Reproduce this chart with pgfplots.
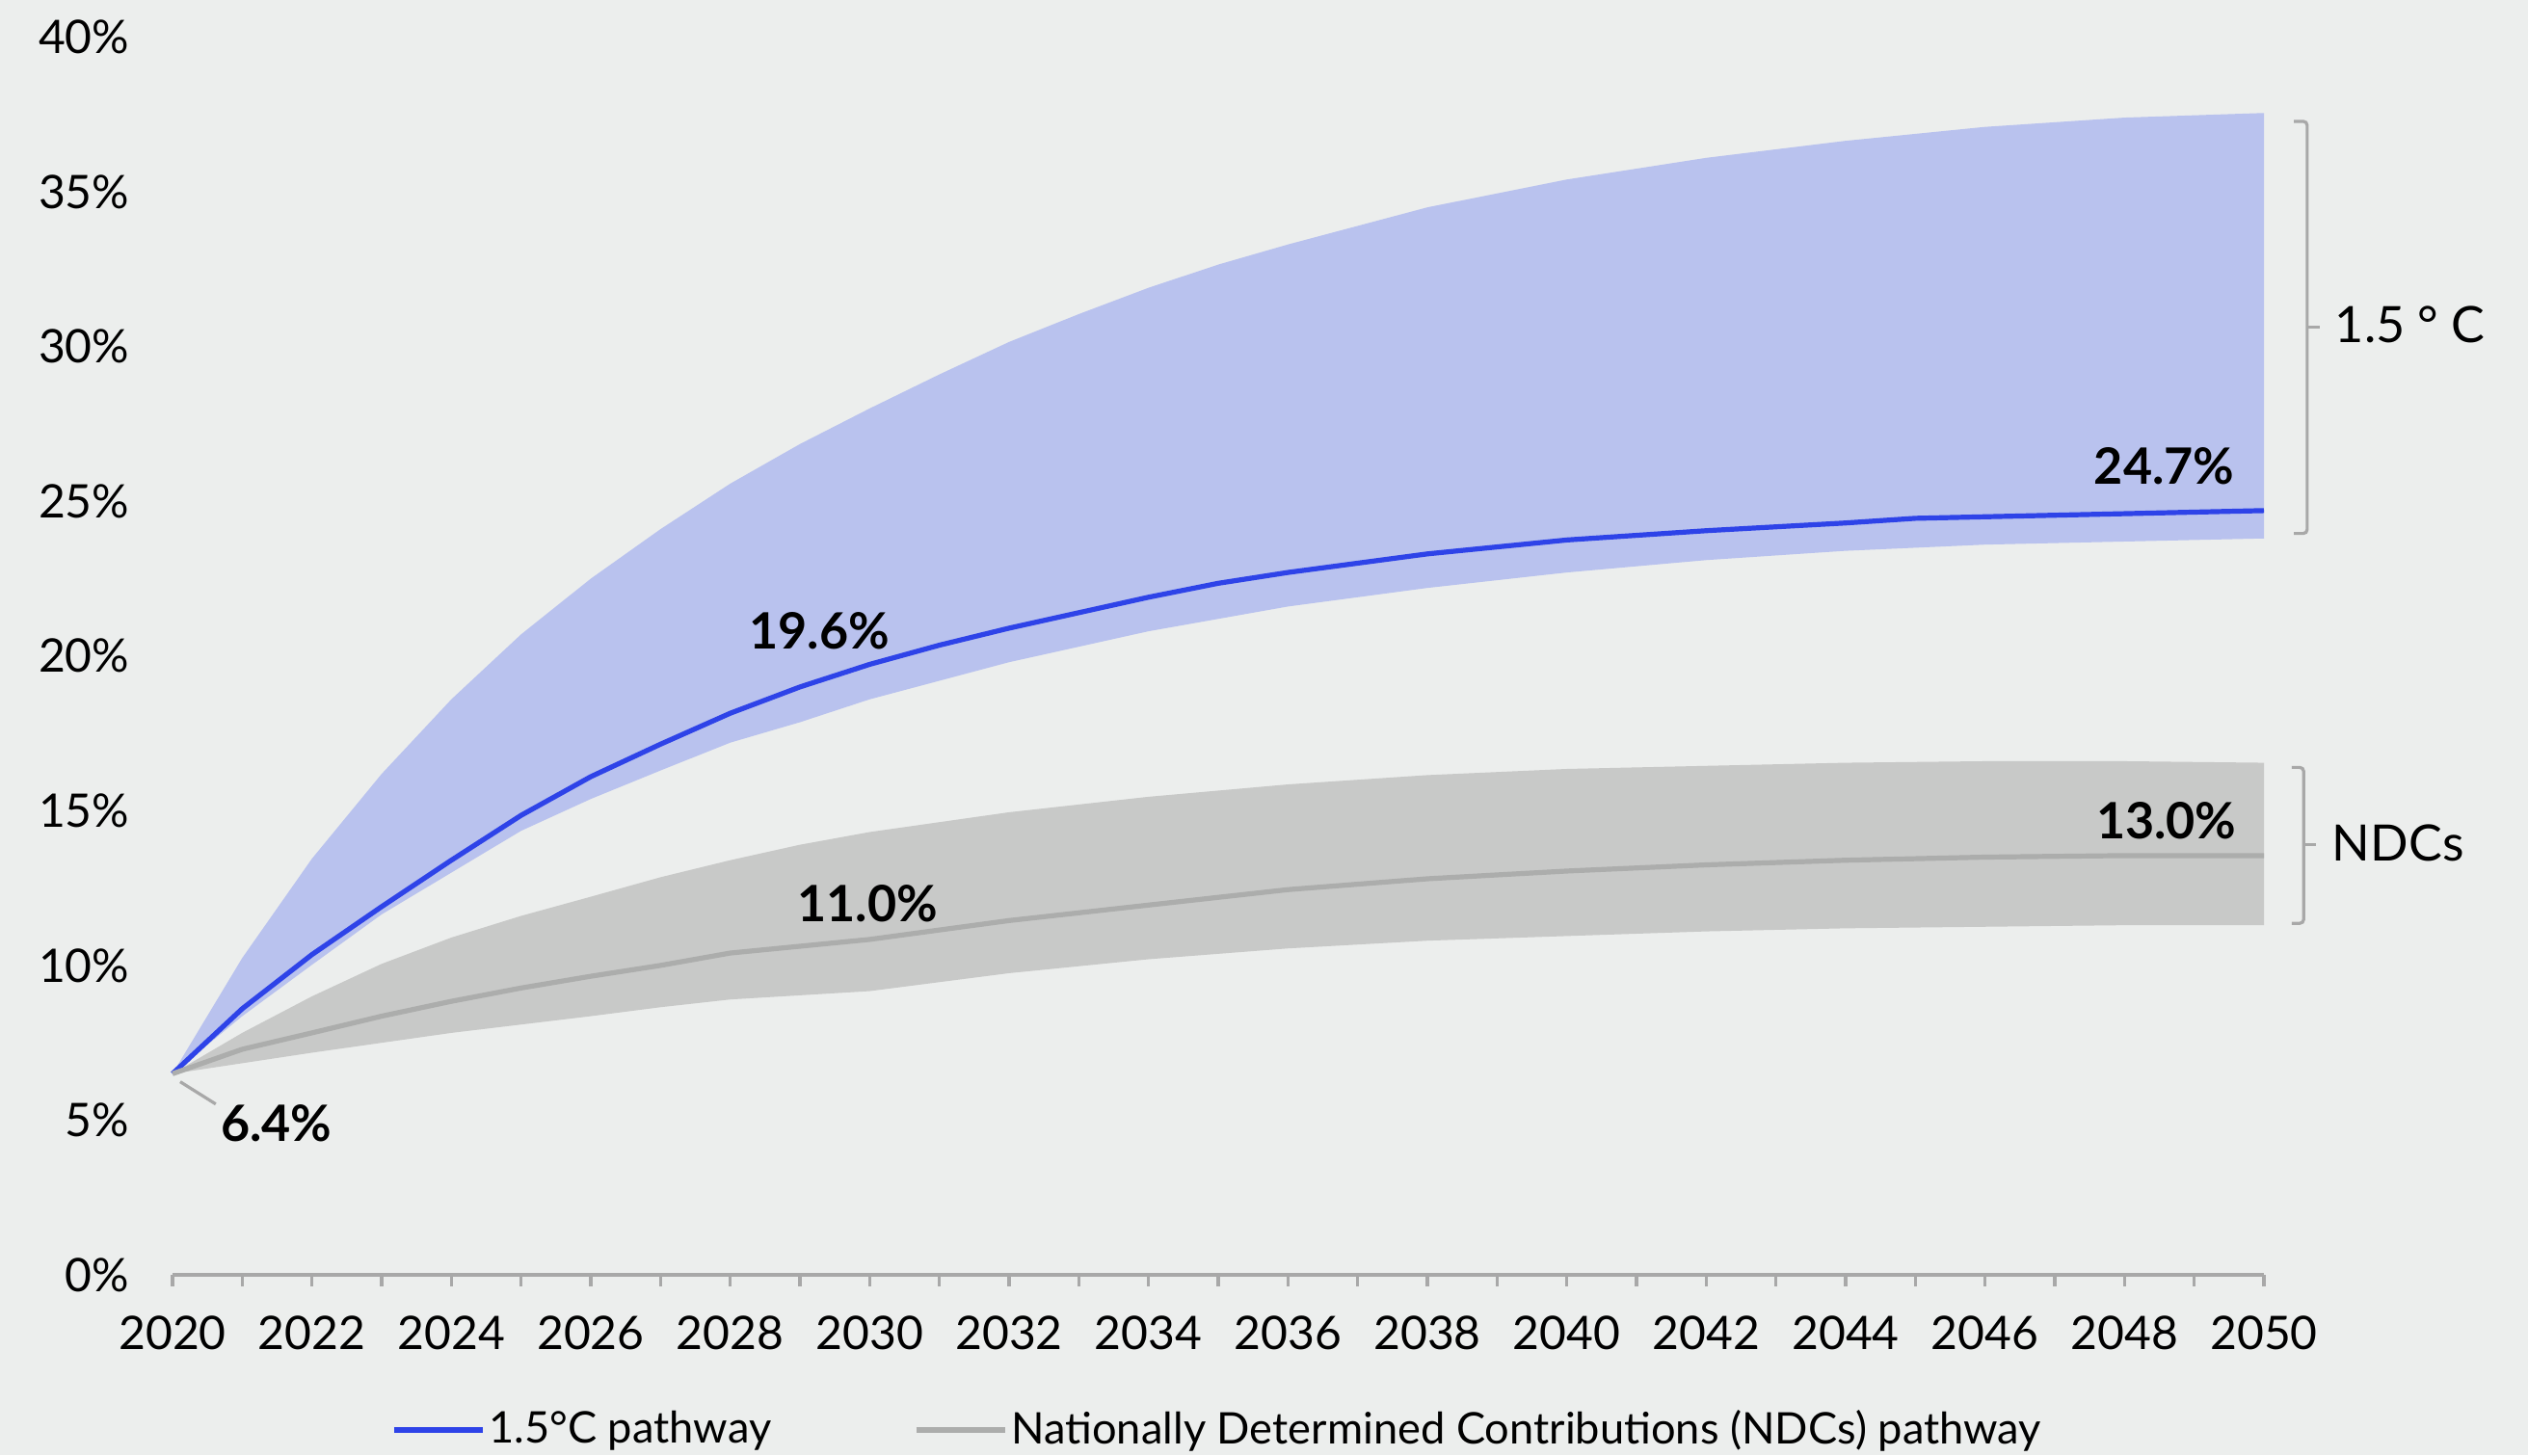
\documentclass[border=0pt]{standalone}
\usepackage{fontspec}
\setmainfont{Lato}
\usepackage{xcolor}
\usepackage{pgfplots}
\pgfplotsset{compat=1.18}
\usepgfplotslibrary{fillbetween}
\definecolor{bg}{HTML}{ECEEED}
\definecolor{bluefill}{HTML}{B9C2EE}
\definecolor{blueline}{HTML}{2E43E8}
\definecolor{grayfill}{HTML}{C8C9C8}
\definecolor{grayline}{HTML}{ACADAC}
\definecolor{axisgray}{HTML}{A8A8A8}
\pagecolor{bg}
\begin{document}
\begin{tikzpicture}
\path (0,0) rectangle (655.75pt,377.5pt);
\begin{axis}[
  at={(44.75pt,46.75pt)}, anchor=south west,
  scale only axis, width=542.5pt, height=321.1pt,
  xmin=2020, xmax=2050, ymin=0, ymax=40,
  clip=false,
  axis x line*=bottom, axis y line*=left,
  axis line style={-},
  x axis line style={axisgray, line width=0.8pt},
  y axis line style={draw=none},
  xtick={2020,2022,...,2050},
  minor xtick={2021,2023,...,2049},
  tick align=outside,
  major tick length=3pt, minor tick length=3pt,
  xtick style={axisgray, line width=0.8pt},
  minor x tick style={axisgray, line width=0.8pt},
  ytick={0,5,...,40},
  ytick style={draw=none},
  /pgf/number format/1000 sep={},
  /pgf/number format/assume math mode=true,
  tick label style={font=\fontsize{12}{14}\selectfont},
  yticklabel={\pgfmathprintnumber{\tick}\%},
  yticklabel style={anchor=east, inner sep=0pt, xshift=-8pt},
  xticklabel style={anchor=north, inner sep=0pt, yshift=-7.5pt},
  legend style={at={(0.5,-0.1253)}, anchor=center, draw=none, fill=none,
    inner sep=0pt, outer sep=0pt,
    legend columns=2, font=\fontsize{11.3}{13}\selectfont,
    nodes={inner sep=1pt},
    /tikz/every even column/.append style={column sep=36pt}},
  legend image code/.code={\draw[#1] (0pt,0pt) -- (23pt,0pt);},
]
% 1.5C band
\addplot[name path=bu, draw=none, forget plot] coordinates {
(2020,6.5)(2021,10.24)(2022,13.45)(2023,16.19)(2024,18.6)(2025,20.7)(2026,22.5)(2027,24.1)(2028,25.57)(2029,26.85)(2030,28.0)(2031,29.1)(2032,30.15)(2033,31.05)(2034,31.9)(2035,32.65)(2036,33.3)(2038,34.5)(2040,35.4)(2042,36.1)(2044,36.65)(2046,37.1)(2048,37.4)(2050,37.55)};
\addplot[name path=bl, draw=none, forget plot] coordinates {
(2020,6.5)(2021,8.36)(2022,10.02)(2023,11.65)(2024,13.0)(2025,14.35)(2026,15.38)(2027,16.3)(2028,17.2)(2029,17.86)(2030,18.6)(2032,19.8)(2034,20.8)(2036,21.6)(2038,22.2)(2040,22.7)(2042,23.1)(2044,23.4)(2046,23.6)(2048,23.7)(2050,23.8)};
\addplot[fill=bluefill, draw=none, forget plot] fill between[of=bu and bl];
\addplot[blueline, line width=1.3pt] coordinates {
(2020,6.5)(2021,8.6)(2022,10.35)(2023,11.9)(2024,13.4)(2025,14.85)(2026,16.1)(2027,17.15)(2028,18.15)(2029,19.0)(2030,19.73)(2031,20.35)(2032,20.9)(2033,21.4)(2034,21.9)(2035,22.35)(2036,22.7)(2038,23.3)(2040,23.75)(2042,24.05)(2044,24.3)(2045,24.45)(2046,24.5)(2048,24.6)(2050,24.7)};
\addlegendentry{1.5°C pathway}
% NDC band
\addplot[name path=gu, draw=none, forget plot] coordinates {
(2020,6.5)(2021,7.82)(2022,9.0)(2023,10.05)(2024,10.9)(2025,11.6)(2026,12.22)(2027,12.85)(2028,13.4)(2029,13.9)(2030,14.31)(2032,14.95)(2034,15.45)(2036,15.85)(2038,16.15)(2040,16.35)(2042,16.45)(2044,16.55)(2046,16.6)(2048,16.6)(2050,16.55)};
\addplot[name path=gl, draw=none, forget plot] coordinates {
(2020,6.5)(2022,7.18)(2024,7.82)(2026,8.36)(2027,8.65)(2028,8.9)(2030,9.17)(2032,9.75)(2034,10.2)(2036,10.55)(2038,10.8)(2040,10.95)(2042,11.1)(2044,11.2)(2046,11.25)(2048,11.3)(2050,11.3)};
\addplot[fill=grayfill, draw=none, forget plot] fill between[of=gu and gl];
\addplot[grayline, line width=1.3pt] coordinates {
(2020,6.5)(2021,7.29)(2022,7.82)(2023,8.36)(2024,8.84)(2025,9.27)(2026,9.65)(2027,10.0)(2028,10.4)(2030,10.84)(2032,11.45)(2034,11.95)(2036,12.45)(2038,12.8)(2040,13.05)(2042,13.25)(2044,13.4)(2046,13.5)(2048,13.55)(2050,13.55)};
\addlegendentry{Nationally Determined Contributions (NDCs) pathway}
% annotations
\draw[axisgray, line width=0.8pt] (axis cs:2020.11,6.24) -- (axis cs:2020.62,5.52);
\node[font=\fontsize{13}{15}\selectfont\bfseries, inner sep=0pt] at (axis cs:2021.49,4.89) {6.4\%};
\node[font=\fontsize{13}{15}\selectfont\bfseries, inner sep=0pt] at (axis cs:2029.28,20.8) {19.6\%};
\node[font=\fontsize{13}{15}\selectfont\bfseries, inner sep=0pt] at (axis cs:2029.97,12.0) {11.0\%};
\node[font=\fontsize{13}{15}\selectfont\bfseries, inner sep=0pt] at (axis cs:2048.57,26.15) {24.7\%};
\node[font=\fontsize{13}{15}\selectfont\bfseries, inner sep=0pt] at (axis cs:2048.6,14.69) {13.0\%};
% brackets
\draw[axisgray, line width=0.8pt, rounded corners=1pt] (axis cs:2050.43,37.28) -- (axis cs:2050.62,37.28) -- (axis cs:2050.62,23.96) -- (axis cs:2050.43,23.96);
\draw[axisgray, line width=0.8pt] (axis cs:2050.62,30.63) -- (axis cs:2050.8,30.63);
\node[anchor=west, inner sep=0pt, font=\fontsize{13}{15}\selectfont] at (axis cs:2051.01,30.7) {1.5 ° C};
\draw[axisgray, line width=0.8pt, rounded corners=1pt] (axis cs:2050.40,16.40) -- (axis cs:2050.57,16.40) -- (axis cs:2050.57,11.36) -- (axis cs:2050.40,11.36);
\draw[axisgray, line width=0.8pt] (axis cs:2050.57,13.90) -- (axis cs:2050.74,13.90);
\node[anchor=west, inner sep=0pt, font=\fontsize{13}{15}\selectfont] at (axis cs:2050.97,13.95) {NDCs};
\end{axis}
\end{tikzpicture}
\end{document}
